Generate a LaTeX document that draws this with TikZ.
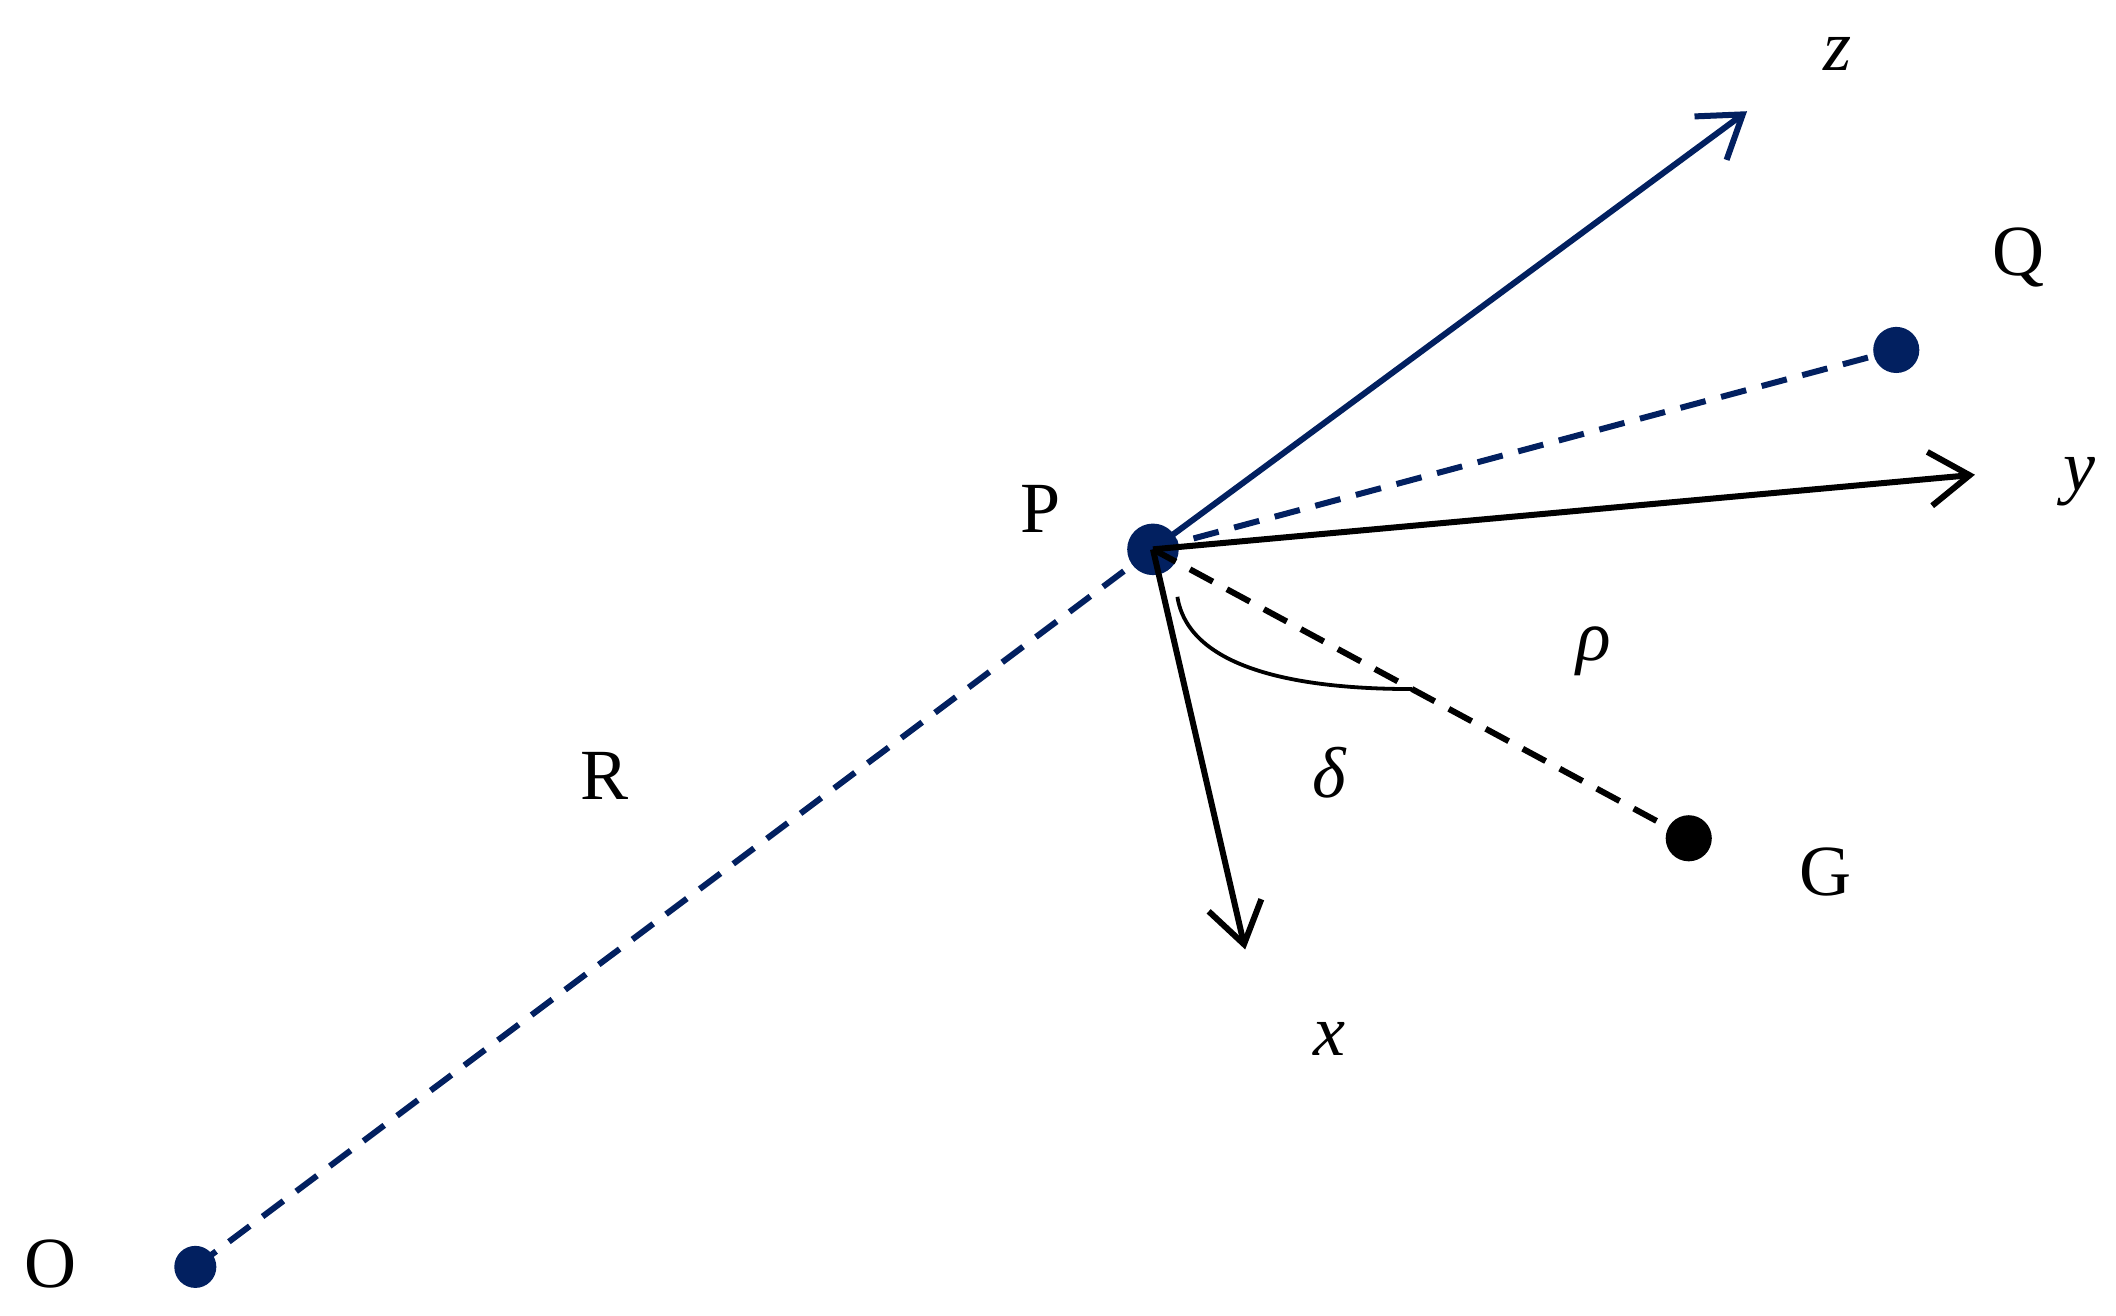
\documentclass[tikz,border=0pt]{standalone}
\usepackage{fontspec}
\setmainfont{Liberation Serif}
\usetikzlibrary{arrows.meta}
\definecolor{navy}{RGB}{2,32,96}
\begin{document}
\begin{tikzpicture}[x=0.678pt,y=-0.678pt,
  dot/.style={circle,fill=#1,inner sep=0pt,minimum size=38*0.678pt},
  lbl/.style={font=\fontsize{36}{42}\selectfont,inner sep=0pt},
  axis/.style={line width=3pt,-{Straight Barb[length=20pt,width=27pt,line width=3pt]}},
  dsh/.style={line width=3pt,dash pattern=on 13pt off 8pt}]
\useasboundingbox (0,0) rectangle (1560,970.2);
\node[dot=navy] (P) at (850,405) {};
\node[dot=navy,minimum size=31*0.678pt] (O) at (144,934) {};
\node[dot=navy,minimum size=34*0.678pt] (Q) at (1398,258) {};
\node[dot=black,minimum size=34*0.678pt] (G) at (1245,618) {};
\coordinate (zt) at (1288,82);
\coordinate (yt) at (1456,350);
\coordinate (xt) at (918,700);
\coordinate (a1) at (868,440);
\coordinate (a2) at (1041,508);
\draw[dsh,navy] (O.center) -- (P.center);
\draw[dsh,navy] (P.center) -- (Q.center);
\draw[dsh,black] (P.center) -- (G.center);
\draw[axis,navy] (P.center) -- (zt);
\draw[axis,black] (P.center) -- (yt);
\draw[axis,black] (P.center) -- (xt);
\draw[line width=1.9pt] (a1) .. controls (876,490) and (948,508) .. (a2);
\node[lbl] (lO) at (37,932) {O};
\node[lbl] (lP) at (767,375) {P};
\node[lbl] (lR) at (446,572) {R};
\node[lbl] (lQ) at (1488,190) {Q};
\node[lbl] (lG) at (1346,643) {G};
\node[lbl] (lz) at (1355,40) {\itshape z};
\node[lbl] (ly) at (1533,355) {\itshape y};
\node[lbl] (lx) at (980,766) {\itshape x};
\node[lbl] (ld) at (980,570) {\itshape δ};
\node[lbl] (lr) at (1175,480) {\itshape ρ};
\end{tikzpicture}
\end{document}
